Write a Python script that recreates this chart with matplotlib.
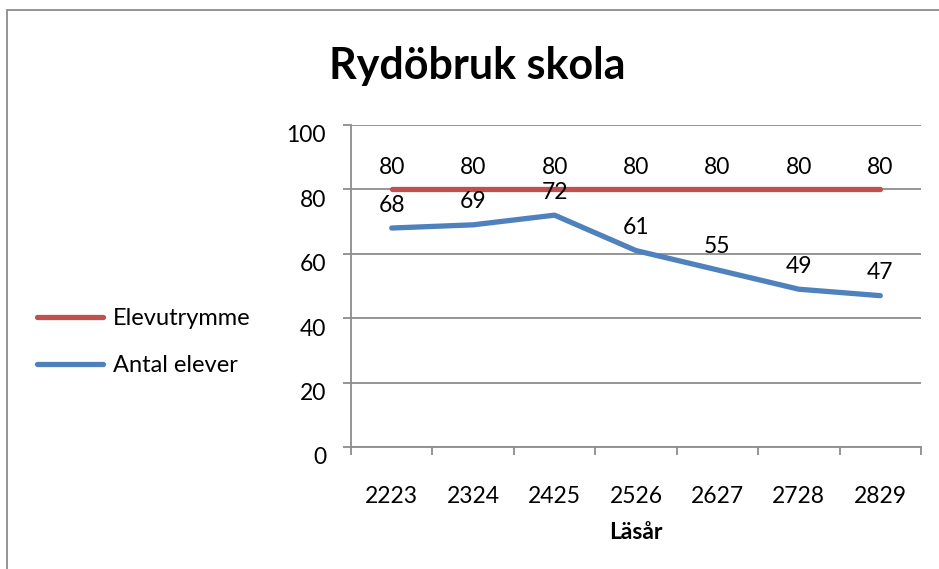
import numpy as np
import matplotlib.pyplot as plt
import matplotlib.transforms as mtransforms
from matplotlib.patches import Rectangle

years = ['2223', '2324', '2425', '2526', '2627', '2728', '2829']
elevutrymme = [80, 80, 80, 80, 80, 80, 80]
antal_elever = [68, 69, 72, 61, 55, 49, 47]
y_ticks = [0, 20, 40, 60, 80, 100]

plt.rcParams['font.family'] = ['Lato', 'DejaVu Sans']

red = '#C0504D'
blue = '#4F81BD'
grey = '#8C8C8C'

fig = plt.figure(figsize=(9.39, 5.69), dpi=100)

# outer chart frame (right and bottom edges lie outside the picture)
fig.patches.append(Rectangle((7/939, -1), 2, 1 + (1 - 10/569), transform=fig.transFigure,
                             fill=False, edgecolor=grey, linewidth=1.3))

ax = fig.add_axes([351/939, 1 - 447/569, 570/939, 322/569])
x = np.arange(len(years))

l1, = ax.plot(x, elevutrymme, color=red, linewidth=3.8, solid_capstyle='round', label='Elevutrymme')
l2, = ax.plot(x, antal_elever, color=blue, linewidth=3.8, solid_capstyle='round', label='Antal elever')

for xi, v in zip(x, elevutrymme):
    ax.annotate(str(v), (xi, v), xytext=(0, 16), textcoords='offset points',
                ha='center', va='center', fontsize=16.5)
for xi, v in zip(x, antal_elever):
    ax.annotate(str(v), (xi, v), xytext=(0, 16.5), textcoords='offset points',
                ha='center', va='center', fontsize=16.5)

ax.set_xlim(-0.5, len(years) - 0.5)
ax.set_ylim(0, 100)
ax.set_yticks(y_ticks)
ax.set_yticklabels([str(t) for t in y_ticks])
ax.yaxis.grid(True, color=grey, linewidth=1.3)
ax.set_axisbelow(True)

ax.set_xticks(np.arange(len(years) + 1) - 0.5)
ax.set_xticklabels([])
ax.set_xticks(x, minor=True)
ax.set_xticklabels(years, minor=True)
ax.tick_params(axis='x', which='major', direction='out', length=6, color=grey, width=1.3)
ax.tick_params(axis='x', which='minor', length=0, pad=28, labelsize=16.5)
ax.tick_params(axis='y', direction='out', length=6, color=grey, width=1.3, pad=12, labelsize=16.5)

# Excel puts the y labels a bit below their grid line
offset = mtransforms.ScaledTranslation(0, -9/100, fig.dpi_scale_trans)
for lab in ax.get_yticklabels():
    lab.set_transform(lab.get_transform() + offset)

for side in ['top', 'right']:
    ax.spines[side].set_visible(False)
for side in ['left', 'bottom']:
    ax.spines[side].set_color(grey)
    ax.spines[side].set_linewidth(1.3)

ax.set_xlabel('Läsår', fontsize=16.5, fontweight='bold', labelpad=11)
fig.text(477/939, 1 - 66/569, 'Rydöbruk skola', ha='center', va='center',
         fontsize=31, fontweight='bold')

fig.legend(handles=[l1, l2], loc='center left', bbox_to_anchor=(37/939, 1 - 342/569),
           frameon=False, fontsize=17, handlelength=2.8, handletextpad=0.42,
           labelspacing=1.1, borderpad=0, borderaxespad=0)

plt.savefig('out.png', dpi=100)
